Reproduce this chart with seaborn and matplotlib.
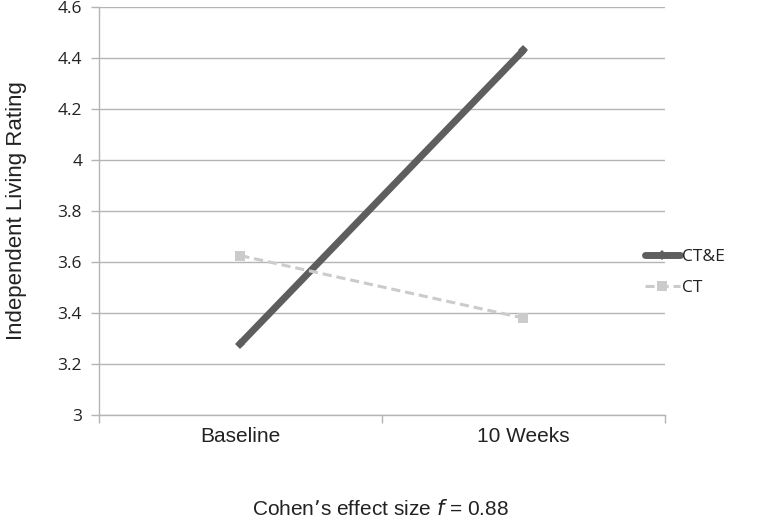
import pandas as pd
import matplotlib
matplotlib.use("Agg")
import matplotlib.pyplot as plt
import seaborn as sb

# values
timepoints = ["Baseline", "10 Weeks"]
ct_e = [3.28, 4.43]
ct = [3.625, 3.38]
y_ticks = [3, 3.2, 3.4, 3.6, 3.8, 4, 4.2, 4.4, 4.6]
y_tick_labels = ["3", "3.2", "3.4", "3.6", "3.8", "4", "4.2", "4.4", "4.6"]

df = pd.DataFrame({
    "time": timepoints * 2,
    "rating": ct_e + ct,
    "group": ["CT&E"] * 2 + ["CT"] * 2,
})

sb.set_style("white")
plt.rcParams["font.family"] = ["Liberation Sans", "DejaVu Sans"]
txt_clr = "#222222"

fig = plt.figure(figsize=(7.6, 5.21), dpi=100)
ax = fig.add_axes([0.130, 0.2035, 0.745, 0.7831])

grid_clr = "#b4b4b4"
for y in y_ticks:
    ax.axhline(y, color=grid_clr, linewidth=1.0, zorder=0)

clrs = {"CT&E": "#5e5e5e", "CT": "#cbcbcb"}
sb.lineplot(data=df, x="time", y="rating", hue="group", style="group",
            palette=clrs, markers={"CT&E": "D", "CT": "s"},
            dashes={"CT&E": "", "CT": (3, 1.6)}, ax=ax, legend=False,
            markeredgewidth=0, zorder=3)
n = len(y_ticks)
ax.lines[n].set_linewidth(5)
ax.lines[n].set_markersize(5)
ax.lines[n + 1].set_linewidth(2.2)
ax.lines[n + 1].set_markersize(7)

ax.set_xlim(-0.5, 1.5)
ax.set_ylim(3, 4.6)
ax.set_yticks(y_ticks)
ax.set_yticklabels(y_tick_labels, family=["Open Sans", "DejaVu Sans"], fontsize=12.5)
ax.set_xticks([0, 1])
ax.set_xticklabels(timepoints, fontsize=15)
ax.set_xticks([-0.5, 0.5, 1.5], minor=True)
ax.tick_params(axis="x", which="major", length=0, pad=9, colors=txt_clr)
ax.tick_params(axis="x", which="minor", length=6, color=grid_clr, width=1, direction="out")
ax.tick_params(axis="y", length=6, color=grid_clr, width=1, colors=txt_clr, direction="out", pad=6)
ax.yaxis.set_ticks_position("left")
ax.xaxis.set_ticks_position("bottom")

for side in ["top", "right"]:
    ax.spines[side].set_visible(False)
for side in ["left", "bottom"]:
    ax.spines[side].set_color(grid_clr)
    ax.spines[side].set_linewidth(1)

ax.set_xlabel("")
ax.set_ylabel("Independent Living Rating", fontsize=16, color=txt_clr, labelpad=22)

handles = [
    plt.Line2D([], [], color=clrs["CT&E"], linewidth=5, marker="D", markersize=5, markeredgewidth=0),
    plt.Line2D([], [], color=clrs["CT"], linewidth=2.2, linestyle=(0, (3, 1.6)), marker="s", markersize=7, markeredgewidth=0),
]
leg = fig.legend(handles, ["CT&E", "CT"], loc="center left", bbox_to_anchor=(0.828, 0.477),
                 frameon=False, handlelength=2.0, handletextpad=0.15, labelspacing=0.9,
                 prop={"family": ["Open Sans", "DejaVu Sans"], "size": 12.5})
for t in leg.get_texts():
    t.set_color(txt_clr)

fig.text(0.5, 0.012, "Cohen\u2019s effect size $\\it{f}$ = 0.88", ha="center", fontsize=15, color=txt_clr)

fig.savefig("out.png", dpi=100)
